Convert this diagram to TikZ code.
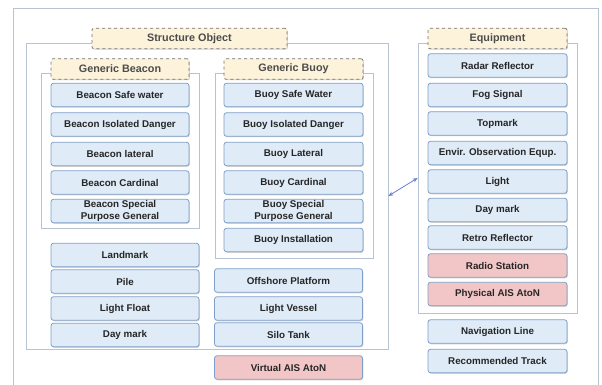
\documentclass[tikz,border=0pt]{standalone}
\usepackage{fontspec}
\setmainfont{Liberation Sans}
\usetikzlibrary{arrows.meta, shadows}

\definecolor{itemfill}{HTML}{DFEBF7}
\definecolor{itemline}{HTML}{7F9FC8}
\definecolor{atonfill}{HTML}{F2C6C6}
\definecolor{headfill}{HTML}{FDF3DB}
\definecolor{frameline}{HTML}{B7C3D3}
\definecolor{textgray}{HTML}{262626}

\begin{document}
\begin{tikzpicture}[x=1pt,y=-1pt,
    item/.style={rectangle,draw=itemline,fill=itemfill,rounded corners=2.5pt,line width=0.8pt,
        minimum width=138pt,minimum height=23.5pt,inner sep=1pt,align=center,text=textgray,
        font=\fontsize{9.8}{11.2}\selectfont\bfseries,
        drop shadow={shadow xshift=0.8pt,shadow yshift=-1pt,fill=black!35}},
    wide item/.style={item,minimum width=148pt},
    aton item/.style={item,fill=atonfill},
    head/.style={rectangle,draw=black!55,dashed,fill=headfill,rounded corners=2pt,line width=0.7pt,
        minimum height=20.5pt,inner sep=1pt,text=black!70,font=\fontsize{10.8}{12}\selectfont\bfseries,
        drop shadow={shadow xshift=0.8pt,shadow yshift=-1pt,fill=black!35}},
    group/.style={rectangle,draw=frameline,line width=0.7pt,inner sep=0pt}]

    \useasboundingbox (0,0) rectangle (602,385);

    % outer frame
    \draw[frameline,line width=0.7pt] (13,385) -- (13,8) -- (598,8) -- (598,385);

    % group frames
    \node[group,minimum width=362pt,minimum height=306pt] (sgrp) at (207,196) {};
    \node[group,minimum width=158pt,minimum height=155pt] (bcgrp) at (120,150.5) {};
    \node[group,minimum width=158pt,minimum height=185pt] (bygrp) at (294,165.5) {};
    \node[group,minimum width=159pt,minimum height=270pt] (egrp) at (497.5,178) {};

    % headers
    \node[head,minimum width=195pt] (structure) at (189.5,38.5) {Structure Object};
    \node[head,minimum width=138pt] (beacon) at (120,69) {Generic Beacon};
    \node[head,minimum width=139pt] (buoy) at (293.5,69) {Generic Buoy};
    \node[head,minimum width=139pt] (equip) at (497.5,38.5) {Equipment};

    % generic beacon
    \node[item] (bsafe) at (120,95) {Beacon Safe water};
    \node[item] (biso) at (120,124.5) {Beacon Isolated Danger};
    \node[item] (blat) at (120,154) {Beacon lateral};
    \node[item] (bcard) at (120,182.5) {Beacon Cardinal};
    \node[item] (bspec) at (120,211) {Beacon Special\\Purpose General};

    % generic buoy
    \node[item,minimum width=139pt] (ysafe) at (293.5,95) {Buoy Safe Water};
    \node[item,minimum width=139pt] (yiso) at (293.5,124.5) {Buoy Isolated Danger};
    \node[item,minimum width=139pt] (ylat) at (293.5,154) {Buoy Lateral};
    \node[item,minimum width=139pt] (ycard) at (293.5,182.5) {Buoy Cardinal};
    \node[item,minimum width=139pt] (yspec) at (293.5,211) {Buoy Special\\Purpose General};
    \node[item,minimum width=139pt] (yinst) at (293.5,240) {Buoy Installation};

    % other structures
    \node[wide item] (landmark) at (125,255) {Landmark};
    \node[wide item] (pile) at (125,281.5) {Pile};
    \node[wide item] (lfloat) at (125,308.5) {Light Float};
    \node[wide item] (sdaymark) at (125,335) {Day mark};
    \node[wide item] (offshore) at (288.5,280.5) {Offshore Platform};
    \node[wide item] (lvessel) at (288.5,308.5) {Light Vessel};
    \node[wide item] (silo) at (288.5,334.5) {Silo Tank};
    \node[wide item,fill=atonfill] (vaton) at (288.5,367.5) {Virtual AIS AtoN};

    % equipment
    \node[item,minimum width=139pt] (radar) at (497.5,65.5) {Radar Reflector};
    \node[item,minimum width=139pt] (fog) at (497.5,95) {Fog Signal};
    \node[item,minimum width=139pt] (topmark) at (497.5,123.5) {Topmark};
    \node[item,minimum width=139pt] (envir) at (497.5,153) {Envir. Observation Equp.};
    \node[item,minimum width=139pt] (light) at (497.5,181.5) {Light};
    \node[item,minimum width=139pt] (edaymark) at (497.5,210) {Day mark};
    \node[item,minimum width=139pt] (retro) at (497.5,237.5) {Retro Reflector};
    \node[aton item,minimum width=139pt] (radio) at (497.5,265.5) {Radio Station};
    \node[aton item,minimum width=139pt] (paton) at (497.5,294) {Physical AIS AtoN};

    \node[item,minimum width=139pt] (navline) at (497.5,331.5) {Navigation Line};
    \node[item,minimum width=139pt] (rectrack) at (497.5,361) {Recommended Track};

    \draw[{Stealth[length=5pt,width=4pt]}-{Stealth[length=5pt,width=4pt]},color=itemline!80!blue,line width=0.8pt]
        (sgrp.east) -- (egrp.west);
\end{tikzpicture}
\end{document}
